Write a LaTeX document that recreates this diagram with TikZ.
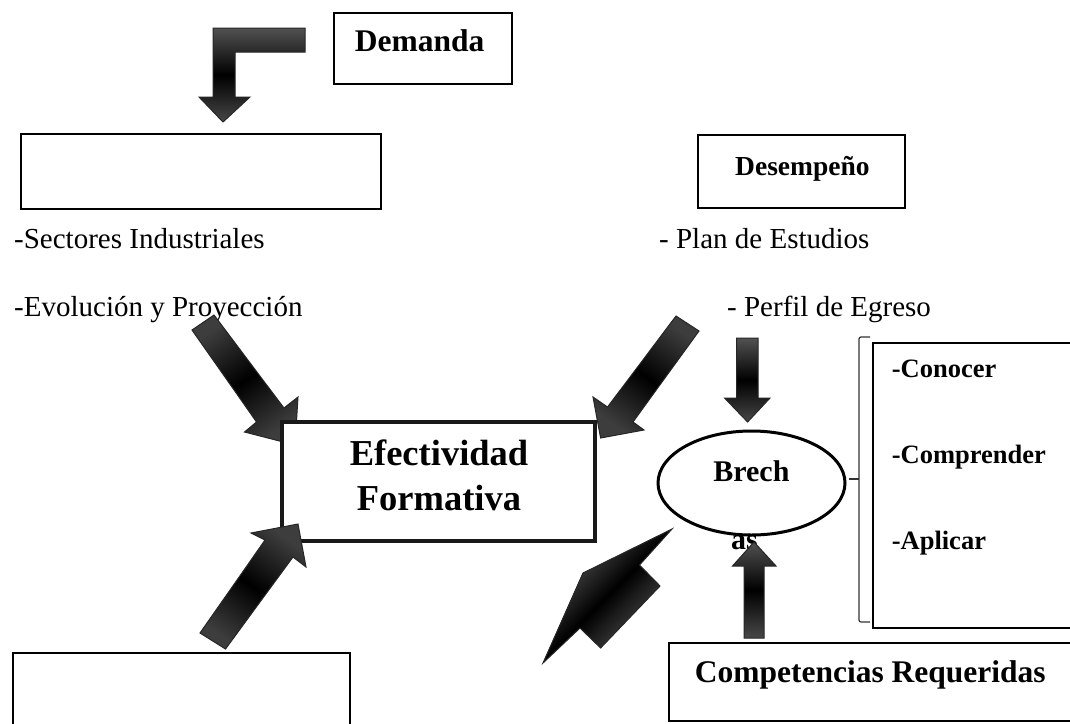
\documentclass[tikz,border=0pt]{standalone}
\usetikzlibrary{shapes.geometric}
\usepackage{fontspec}
\setmainfont{Liberation Serif}
\tikzset{
  px/.style={x=1pt,y=-1pt},
  box/.style={draw=black,line width=2pt,fill=white},
  thickbox/.style={draw=black!90,line width=4pt,fill=white},
  arrowv/.style={draw=black!85,line width=1pt,top color=black!68,bottom color=black!72,middle color=black},
  arrowd/.style={draw=black!85,line width=1pt,top color=black!76,bottom color=black!76,middle color=black},
  capshape/.style={draw=black!85,line width=1pt,top color=black!62,bottom color=black!62,middle color=black},
  plain/.style={inner sep=0pt,anchor=base west,font=\fontsize{29}{29}\selectfont},
  bsmall/.style={inner sep=0pt,anchor=base west,font=\fontsize{26.5}{26.5}\selectfont\bfseries},
  bmid/.style={inner sep=0pt,anchor=base west,font=\fontsize{31.5}{31.5}\selectfont\bfseries},
  bbig/.style={inner sep=0pt,anchor=base,font=\fontsize{36.5}{36.5}\selectfont\bfseries},
}
\begin{document}
\begin{tikzpicture}[px]
\clip (0,0) rectangle (1070,723);
\fill[white] (0,0) rectangle (1070,723);
% boxes
\draw[box] (334,13) rectangle (512,84);
\draw[box] (21,134) rectangle (380.5,208.5);
\draw[box] (698,135) rectangle (905,208);
\draw[box] (13,653) rectangle (349.5,740);
\draw[box] (669,643) rectangle (1090,721);
\draw[box] (872.6,343) rectangle (1090,628);
% texts
\node[bmid] (demanda) at (354.7,51) {Demanda};
\node[inner sep=0pt,anchor=base west,font=\fontsize{27.5}{27.5}\selectfont\bfseries] (desempeno) at (735,175) {Desempeño};
\node[plain] (sectores) at (14,248) {-Sectores Industriales};
\node[plain] (evolucion) at (14,316) {-Evolución y Proyección};
\node[plain] (plan) at (659,248) {- Plan de Estudios};
\node[plain] (perfil) at (727,316) {- Perfil de Egreso};
\node[bsmall] (conocer) at (891.6,377) {-Conocer};
\node[bsmall] (comprender) at (891.6,463) {-Comprender};
\node[bsmall] (aplicar) at (891.6,549) {-Aplicar};
\node[bmid] (competencias) at (694.6,682) {Competencias Requeridas};
% bent arrow
\path[arrowv] (305,28) -- (213,28) -- (213,97) -- (199,97) -- (223,122) -- (250,97) -- (235,97) -- (235,52) -- (305,52) -- cycle;
% upper-left diagonal arrow (under the box)
\path[arrowd,shading angle=35] (192,330) -- (214,315) -- (284,408) -- (298,397) -- (295,445) -- (244.5,432) -- (256.5,422) -- cycle;
% central box
\draw[thickbox] (282,422) rectangle (595,541);
\node[bbig] (efect) at (439,465) {Efectividad};
\node[bbig] (form) at (439,510) {Formativa};
% other arrows
\path[arrowd,shading angle=-35] (200,633) -- (265,540) -- (251,533) -- (298,524) -- (306,567) -- (293,557) -- (225.5,649) -- cycle;
\path[arrowd,shading angle=-35] (676,316) -- (699,331) -- (633,422) -- (644,430) -- (600.6,438) -- (593,397) -- (607.5,407) -- cycle;
\path[arrowv] (736.6,338) -- (758,338) -- (758,398) -- (770,398) -- (747.6,422) -- (724.5,398) -- (736.6,398) -- cycle;
% ellipse
\node[inner sep=0pt,anchor=base west,font=\fontsize{30}{30}\selectfont\bfseries] (as) at (731,549) {as};
\node[draw=black,line width=3pt,fill=white,ellipse,minimum width=187pt,minimum height=104pt,inner sep=0pt] (brecha) at (751.5,483) {};
\node[inner sep=0pt,anchor=base,font=\fontsize{30}{30}\selectfont\bfseries] (brech) at (751.4,481) {Brech};
\path[arrowv] (754,542) -- (776,566) -- (764,566) -- (764,638) -- (744,638) -- (744,566) -- (732.5,566) -- cycle;
% cap shape
\path[capshape,shading angle=45] (672,529) -- (639.5,565) -- (660,586) -- (600.6,648) -- (580,628) -- (543,663) -- (583,573) -- cycle;
% bracket
\draw[black!80,line width=1.2pt,rounded corners=2pt] (870,337) -- (859,337) -- (859,622) -- (870,622);
\draw[black!80,line width=1.2pt] (848.5,479) -- (859,479);
\end{tikzpicture}
\end{document}
